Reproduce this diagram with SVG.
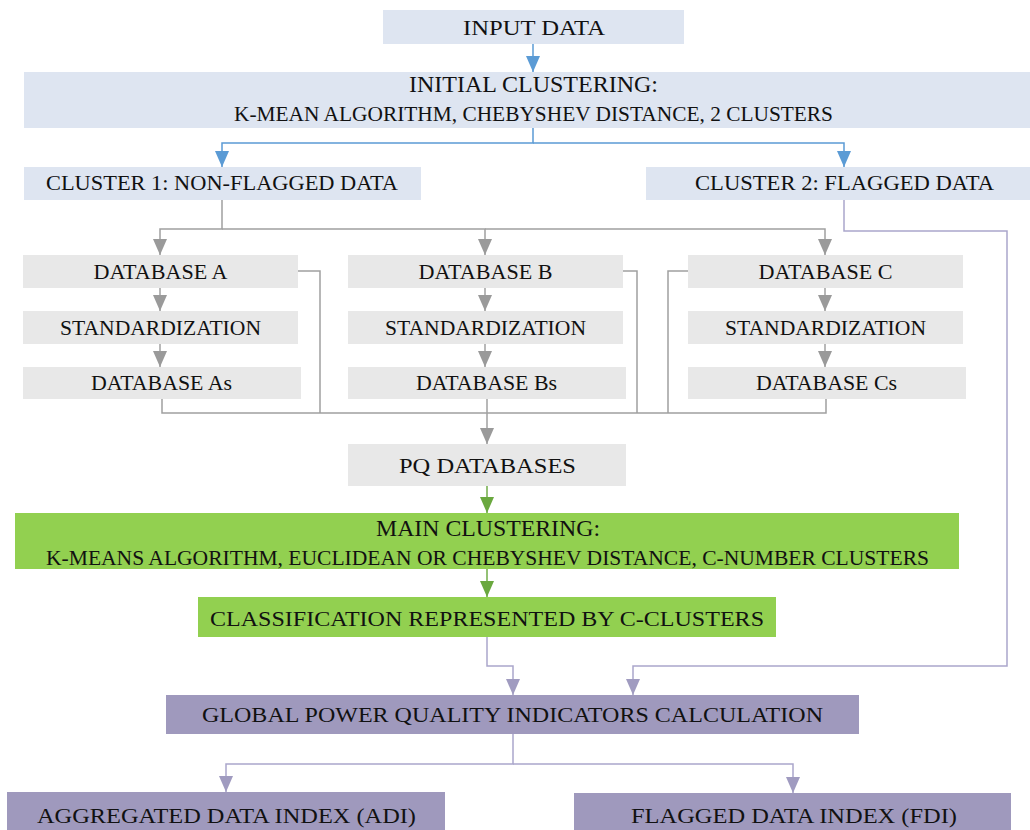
<svg xmlns="http://www.w3.org/2000/svg" width="1030" height="830" viewBox="0 0 1030 830" font-family="Liberation Serif, Times New Roman, DejaVu Serif, serif">
<style>
text{fill:#111;text-anchor:middle;font-size:21px}
.tb{font-size:22.5px}
.blue{fill:#DEE5F1}
.gray{fill:#E8E8E8}
.green{fill:#92D050}
.purple{fill:#9F99BD}
.cb{fill:none;stroke:#5B9BD5;stroke-width:1.5}
.cg{fill:none;stroke:#A0A0A0;stroke-width:1.5}
.cgr{fill:none;stroke:#70AD47;stroke-width:1.5}
.cp{fill:none;stroke:#ABA6CB;stroke-width:1.5}
</style>
<defs>
<marker id="ab" viewBox="0 0 16 14" refX="16" refY="7" markerWidth="16" markerHeight="14" markerUnits="userSpaceOnUse" orient="auto"><path d="M0,0 L16,7 L0,14 z" fill="#5B9BD5"/></marker>
<marker id="ag" viewBox="0 0 16 14" refX="16" refY="7" markerWidth="16" markerHeight="14" markerUnits="userSpaceOnUse" orient="auto"><path d="M0,0 L16,7 L0,14 z" fill="#9A9A9A"/></marker>
<marker id="agr" viewBox="0 0 16 14" refX="16" refY="7" markerWidth="16" markerHeight="14" markerUnits="userSpaceOnUse" orient="auto"><path d="M0,0 L16,7 L0,14 z" fill="#6AA83F"/></marker>
<marker id="ap" viewBox="0 0 16 14" refX="16" refY="7" markerWidth="16" markerHeight="14" markerUnits="userSpaceOnUse" orient="auto"><path d="M0,0 L16,7 L0,14 z" fill="#A09BC0"/></marker>
</defs>

<g id="connectors">
<path class="cb" d="M533,44 V72" marker-end="url(#ab)"/>
<path class="cb" d="M533,128 V143 H222 V167" marker-end="url(#ab)"/>
<path class="cb" d="M533,143 H844 V167" marker-end="url(#ab)"/>

<path class="cg" d="M222,200 V229 H160 V255" marker-end="url(#ag)"/>
<path class="cg" d="M222,229 H485 V255" marker-end="url(#ag)"/>
<path class="cg" d="M485,229 H825 V255" marker-end="url(#ag)"/>
<path class="cg" d="M160,288 V311" marker-end="url(#ag)"/>
<path class="cg" d="M160,344 V367" marker-end="url(#ag)"/>
<path class="cg" d="M485,288 V311" marker-end="url(#ag)"/>
<path class="cg" d="M485,344 V367" marker-end="url(#ag)"/>
<path class="cg" d="M825,288 V311" marker-end="url(#ag)"/>
<path class="cg" d="M825,344 V367" marker-end="url(#ag)"/>
<path class="cg" d="M298,271 H320 V413"/>
<path class="cg" d="M623,271 H637 V413"/>
<path class="cg" d="M688,271 H668 V413"/>
<path class="cg" d="M162,399 V413 H826 V399"/>
<path class="cg" d="M487,399 V444" marker-end="url(#ag)"/>

<path class="cgr" d="M487,486 V513" marker-end="url(#agr)"/>
<path class="cgr" d="M487,569 V597" marker-end="url(#agr)"/>

<path class="cp" d="M487,637 V666 H513 V695" marker-end="url(#ap)"/>
<path class="cp" d="M844,200 V231 H1007 V666 H633 V695" marker-end="url(#ap)"/>
<path class="cp" d="M513,734 V764 H226 V792" marker-end="url(#ap)"/>
<path class="cp" d="M513,764 H793 V793" marker-end="url(#ap)"/>
</g>

<g id="input"><rect class="blue" x="383" y="10" width="301" height="34"/><text x="534" y="35" textLength="142" lengthAdjust="spacingAndGlyphs">INPUT DATA</text></g>
<g id="initial"><rect class="blue" x="24" y="72" width="1006" height="56"/><text class="tb" x="533.5" y="92" textLength="249" lengthAdjust="spacingAndGlyphs">INITIAL CLUSTERING:</text><text x="533.5" y="121" textLength="599" lengthAdjust="spacingAndGlyphs">K-MEAN ALGORITHM, CHEBYSHEV DISTANCE, 2 CLUSTERS</text></g>
<g id="cluster1"><rect class="blue" x="24" y="167" width="397" height="33"/><text x="222" y="190" textLength="352" lengthAdjust="spacingAndGlyphs">CLUSTER 1: NON-FLAGGED DATA</text></g>
<g id="cluster2"><rect class="blue" x="646" y="167" width="384" height="33"/><text x="844.5" y="190" textLength="299" lengthAdjust="spacingAndGlyphs">CLUSTER 2: FLAGGED DATA</text></g>

<g id="dbA"><rect class="gray" x="23" y="255" width="275" height="33"/><text x="160.5" y="279" textLength="134" lengthAdjust="spacingAndGlyphs">DATABASE A</text></g>
<g id="stdA"><rect class="gray" x="23" y="311" width="275" height="33"/><text x="160.5" y="335" textLength="201" lengthAdjust="spacingAndGlyphs">STANDARDIZATION</text></g>
<g id="dbAs"><rect class="gray" x="23" y="367" width="278" height="32"/><text x="161.5" y="390" textLength="141" lengthAdjust="spacingAndGlyphs">DATABASE As</text></g>

<g id="dbB"><rect class="gray" x="348" y="255" width="275" height="33"/><text x="485.5" y="279" textLength="134" lengthAdjust="spacingAndGlyphs">DATABASE B</text></g>
<g id="stdB"><rect class="gray" x="348" y="311" width="275" height="33"/><text x="485.5" y="335" textLength="201" lengthAdjust="spacingAndGlyphs">STANDARDIZATION</text></g>
<g id="dbBs"><rect class="gray" x="348" y="367" width="278" height="32"/><text x="486.5" y="390" textLength="141" lengthAdjust="spacingAndGlyphs">DATABASE Bs</text></g>

<g id="dbC"><rect class="gray" x="688" y="255" width="275" height="33"/><text x="825.5" y="279" textLength="134" lengthAdjust="spacingAndGlyphs">DATABASE C</text></g>
<g id="stdC"><rect class="gray" x="688" y="311" width="275" height="33"/><text x="825.5" y="335" textLength="201" lengthAdjust="spacingAndGlyphs">STANDARDIZATION</text></g>
<g id="dbCs"><rect class="gray" x="688" y="367" width="278" height="32"/><text x="826.5" y="390" textLength="141" lengthAdjust="spacingAndGlyphs">DATABASE Cs</text></g>

<g id="pq"><rect class="gray" x="348" y="444" width="278" height="42"/><text x="487.5" y="473" textLength="177" lengthAdjust="spacingAndGlyphs">PQ DATABASES</text></g>
<g id="main"><rect class="green" x="15" y="513" width="944" height="56"/><text class="tb" x="488" y="536" textLength="224" lengthAdjust="spacingAndGlyphs">MAIN CLUSTERING:</text><text x="487.5" y="565" textLength="883" lengthAdjust="spacingAndGlyphs">K-MEANS ALGORITHM, EUCLIDEAN OR CHEBYSHEV DISTANCE,  C-NUMBER CLUSTERS</text></g>
<g id="classification"><rect class="green" x="198" y="597" width="578" height="40"/><text x="487" y="626" textLength="554" lengthAdjust="spacingAndGlyphs">CLASSIFICATION REPRESENTED BY C-CLUSTERS</text></g>
<g id="global"><rect class="purple" x="166" y="695" width="693" height="39"/><text x="512.5" y="722" textLength="621" lengthAdjust="spacingAndGlyphs">GLOBAL POWER QUALITY INDICATORS CALCULATION</text></g>
<g id="adi"><rect class="purple" x="7" y="792" width="438" height="38"/><text x="226.5" y="823" textLength="379" lengthAdjust="spacingAndGlyphs">AGGREGATED DATA INDEX (ADI)</text></g>
<g id="fdi"><rect class="purple" x="574" y="793" width="437" height="37"/><text x="794" y="823" textLength="326" lengthAdjust="spacingAndGlyphs">FLAGGED DATA INDEX (FDI)</text></g>
</svg>
